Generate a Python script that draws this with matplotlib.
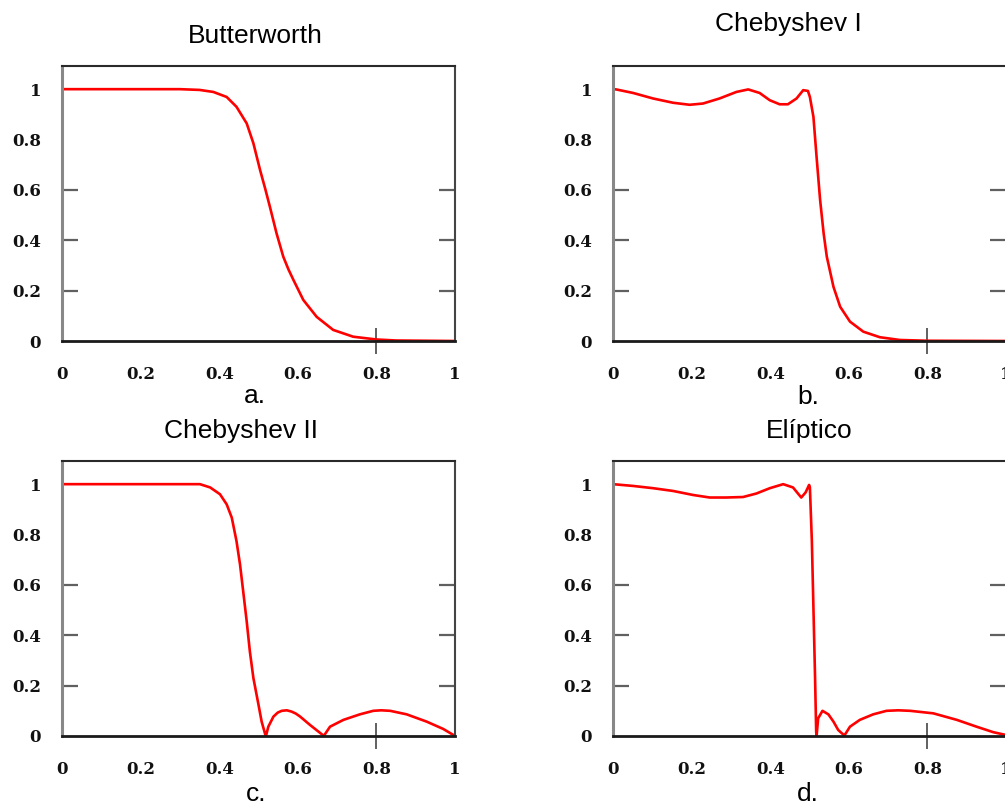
import matplotlib
matplotlib.use("Agg")
import matplotlib.pyplot as plt

# values
butter_x = [0, 0.1, 0.2, 0.3, 0.35, 0.385, 0.419, 0.444, 0.47, 0.487, 0.504, 0.517, 0.529,
            0.546, 0.563, 0.576, 0.589, 0.614, 0.648, 0.69, 0.741, 0.8, 0.85, 1.0]
butter_y = [1, 1, 1, 1, 0.997, 0.989, 0.969, 0.93, 0.864, 0.785, 0.679, 0.605, 0.533,
            0.427, 0.335, 0.285, 0.242, 0.163, 0.096, 0.044, 0.017, 0.006, 0.002, 0]

cheb1_x = [0, 0.008, 0.051, 0.102, 0.153, 0.195, 0.229, 0.271, 0.314, 0.344, 0.373, 0.399,
           0.424, 0.445, 0.467, 0.484, 0.496, 0.501, 0.51, 0.518, 0.527, 0.536, 0.544,
           0.561, 0.578, 0.603, 0.637, 0.679, 0.73, 0.8, 1.0]
cheb1_y = [1.0, 0.999, 0.985, 0.963, 0.946, 0.938, 0.943, 0.963, 0.989, 0.999, 0.985, 0.956,
           0.94, 0.94, 0.963, 0.996, 0.993, 0.969, 0.89, 0.731, 0.56, 0.427, 0.335,
           0.215, 0.136, 0.077, 0.037, 0.015, 0.004, 0.001, 0]

cheb2_x = [0, 0.2, 0.351, 0.377, 0.402, 0.419, 0.432, 0.444, 0.453, 0.461, 0.47, 0.478,
           0.487, 0.5, 0.508, 0.517, 0.519, 0.525, 0.538, 0.549, 0.559, 0.572, 0.584, 0.595,
           0.606, 0.631, 0.661, 0.666, 0.682, 0.716, 0.758, 0.792, 0.812, 0.835, 0.877,
           0.928, 0.97, 0.996, 1.0]
cheb2_y = [1, 1, 1, 0.987, 0.96, 0.92, 0.867, 0.774, 0.681, 0.575, 0.455, 0.336,
           0.23, 0.124, 0.057, 0.007, 0.0, 0.037, 0.077, 0.093, 0.1, 0.102, 0.097, 0.089,
           0.077, 0.044, 0.007, 0.0, 0.037, 0.064, 0.086, 0.1, 0.102, 0.1, 0.086,
           0.057, 0.028, 0.004, 0]

ellip_x = [0, 0.051, 0.102, 0.153, 0.204, 0.246, 0.288, 0.331, 0.365, 0.399, 0.433, 0.458,
           0.479, 0.49, 0.499, 0.501, 0.506, 0.51, 0.514, 0.517, 0.518, 0.522, 0.533,
           0.548, 0.561, 0.573, 0.585, 0.588, 0.603, 0.628, 0.662, 0.696, 0.726, 0.756,
           0.815, 0.875, 0.925, 0.968, 1.0]
ellip_y = [1.0, 0.993, 0.984, 0.973, 0.957, 0.947, 0.947, 0.949, 0.963, 0.984, 1.0, 0.987,
           0.947, 0.967, 0.997, 0.987, 0.774, 0.509, 0.243, 0.017, 0.0, 0.07, 0.1,
           0.086, 0.057, 0.024, 0.007, 0.0, 0.037, 0.064, 0.086, 0.1, 0.102, 0.1,
           0.09, 0.064, 0.037, 0.015, 0.004]

titles = ["Butterworth", "Chebyshev I", "Chebyshev II", "Elíptico"]
letters = ["a.", "b.", "c.", "d."]
tick_vals = [0, 0.2, 0.4, 0.6, 0.8, 1]
tick_text = ["0", "0.2", "0.4", "0.6", "0.8", "1"]

W, H = 1005, 807
fig = plt.figure(figsize=(W / 100, H / 100), dpi=100)


def px_rect(left, top, right, bottom):
    """pixel box -> figure fraction rect"""
    return [left / W, 1 - bottom / H, (right - left) / W, (bottom - top) / H]


def make_panel(rect, xs, ys):
    ax = fig.add_axes(rect)
    ax.plot(xs, ys, color="#ff0000", lw=1.9, solid_joinstyle="round",
            solid_capstyle="round")
    ax.set_xlim(0, 1)
    ax.set_ylim(0, 1.092)

    ax.set_xticks(tick_vals)
    ax.set_xticklabels(tick_text)
    ax.set_yticks(tick_vals)
    ax.set_yticklabels(tick_text)
    ax.tick_params(axis="both", which="major", length=0, labelsize=12,
                   colors="#111111")
    ax.tick_params(axis="x", which="major", pad=18)
    ax.tick_params(axis="y", which="major", pad=15)
    for lab in ax.get_xticklabels() + ax.get_yticklabels():
        lab.set_fontfamily("DejaVu Serif")
        lab.set_fontweight("bold")

    # short inner ticks, as in the original
    ax.xaxis.remove_overlapping_locs = False
    ax.yaxis.remove_overlapping_locs = False
    ax.set_yticks([0.2, 0.4, 0.6], minor=True)
    ax.tick_params(axis="y", which="minor", direction="in", length=11.5,
                   width=1.6, color="#606060", left=True, right=True)
    ax.set_xticks([0.8], minor=True)
    ax.tick_params(axis="x", which="minor", direction="inout", length=19,
                   width=1.4, color="#606060")

    ax.spines["left"].set_color("#888888")
    ax.spines["left"].set_linewidth(2.2)
    ax.spines["bottom"].set_color("#1a1a1a")
    ax.spines["bottom"].set_linewidth(2.0)
    ax.spines["top"].set_color("#2a2a2a")
    ax.spines["top"].set_linewidth(1.5)
    ax.spines["right"].set_color("#444444")
    ax.spines["right"].set_linewidth(1.5)
    return ax


make_panel(px_rect(62, 66, 455, 341), butter_x, butter_y)
make_panel(px_rect(613, 66, 1006, 341), cheb1_x, cheb1_y)
make_panel(px_rect(62, 461, 455, 736), cheb2_x, cheb2_y)
make_panel(px_rect(613, 461, 1006, 736), ellip_x, ellip_y)

title_pos = [(255, 43), (788, 31), (241, 438), (809, 438)]
letter_pos = [(255, 403), (808, 404), (256, 801), (808, 801)]
for t, (x, y) in zip(titles, title_pos):
    fig.text(x / W, 1 - y / H, t, ha="center", va="baseline",
             fontsize=19, family="Liberation Sans")
for t, (x, y) in zip(letters, letter_pos):
    fig.text(x / W, 1 - y / H, t, ha="center", va="baseline",
             fontsize=19, family="Liberation Sans")

fig.savefig("out.png", dpi=100)
